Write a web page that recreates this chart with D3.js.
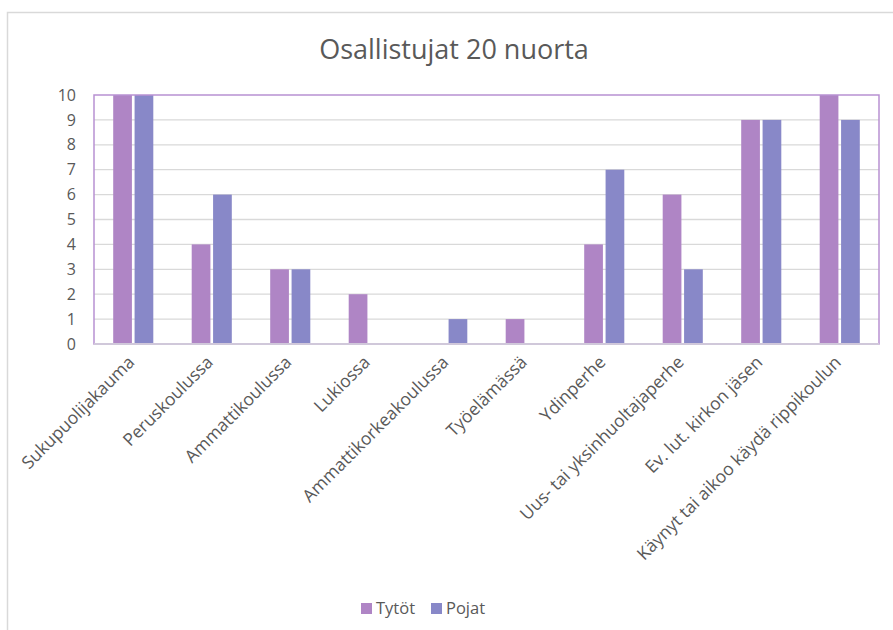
<!DOCTYPE html>
<html>
<head>
<meta charset="utf-8">
<script src="https://cdn.jsdelivr.net/npm/d3@7"></script>
<style>
  body { margin: 0; background: #fff; }
  text { font-family: "Open Sans", sans-serif; fill: #595959; }
</style>
</head>
<body>
<svg id="chart"></svg>
<script>
const categories = ["Sukupuolijakauma", "Peruskoulussa", "Ammattikoulussa", "Lukiossa",
  "Ammattikorkeakoulussa", "Työelämässä", "Ydinperhe", "Uus- tai yksinhuoltajaperhe",
  "Ev. lut. kirkon jäsen", "Käynyt tai aikoo käydä rippikoulun"];
const tytot = [10, 4, 3, 2, 0, 1, 4, 6, 9, 10];
const pojat = [10, 6, 3, 0, 1, 0, 7, 3, 9, 9];
const seriesNames = ["Tytöt", "Pojat"];
const yTicks = [0, 1, 2, 3, 4, 5, 6, 7, 8, 9, 10];

const width = 893, height = 630;
const colors = ["#af85c5", "#8888c8"];
const margin = { top: 95, right: 14, bottom: 286, left: 94 };

const svg = d3.select("#chart").attr("width", width).attr("height", height);

// outer chart border
svg.append("rect")
  .attr("x", 7.5).attr("y", 12.5)
  .attr("width", width + 10).attr("height", height + 10)
  .attr("fill", "none").attr("stroke", "#d9d9d9").attr("stroke-width", 1.5);

const x0 = d3.scaleBand().domain(categories)
  .range([margin.left, width - margin.right]);
const x1 = d3.scaleBand().domain(seriesNames)
  .range([-11.3 - 8.75, 11.3 + 8.75]).paddingInner(0.125);
const y = d3.scaleLinear().domain([0, 10]).range([height - margin.bottom, margin.top]);

// title
svg.append("text")
  .attr("x", 454).attr("y", 59)
  .attr("text-anchor", "middle")
  .style("font-size", "27px")
  .text("Osallistujat 20 nuorta");

// gridlines
svg.append("g")
  .selectAll("line").data(yTicks.filter(d => d > 0 && d < 10)).join("line")
  .attr("x1", margin.left).attr("x2", width - margin.right)
  .attr("y1", d => y(d)).attr("y2", d => y(d))
  .attr("stroke", "#d9d9d9").attr("stroke-width", 1.3);

// y axis labels
const yAxis = d3.axisLeft(y).tickValues(yTicks).tickSize(0).tickPadding(18);
const gy = svg.append("g").attr("transform", `translate(${margin.left},0)`).call(yAxis);
gy.select(".domain").remove();
gy.selectAll("text").style("font-size", "16px").style("font-family", "'Open Sans', sans-serif").attr("fill", "#595959");

// bars
const rows = categories.map((c, i) => ({ cat: c, vals: [tytot[i], pojat[i]] }));
const groups = svg.append("g").selectAll("g").data(rows).join("g")
  .attr("transform", d => `translate(${x0(d.cat) + x0.bandwidth() / 2},0)`);
groups.selectAll("rect")
  .data(d => d.vals.map((v, j) => ({ key: seriesNames[j], v, j })))
  .join("rect")
  .attr("x", d => x1(d.key))
  .attr("width", x1.bandwidth())
  .attr("y", d => y(d.v))
  .attr("height", d => y(0) - y(d.v))
  .attr("fill", d => colors[d.j]);

// plot frame
svg.append("rect")
  .attr("x", margin.left).attr("y", margin.top)
  .attr("width", width - margin.right - margin.left)
  .attr("height", y(0) - margin.top)
  .attr("fill", "none").attr("stroke", "#b891d2").attr("stroke-width", 1.5);
svg.append("line")
  .attr("x1", margin.left).attr("x2", width - margin.right)
  .attr("y1", y(0)).attr("y2", y(0))
  .attr("stroke", "#d0c8da").attr("stroke-width", 2);

// category labels
svg.append("g").selectAll("text").data(categories).join("text")
  .attr("transform", d => `translate(${x0(d) + x0.bandwidth() / 2 - 2},${y(0) + 15}) rotate(-45)`)
  .attr("text-anchor", "end")
  .attr("dy", "0.35em")
  .style("font-size", "17.5px")
  .text(d => d);

// legend
const legend = svg.append("g").attr("transform", "translate(361,608)");
const items = legend.selectAll("g").data(seriesNames).join("g")
  .attr("transform", (d, i) => `translate(${i * 70},0)`);
items.append("rect").attr("x", 0).attr("y", -5).attr("width", 11).attr("height", 11)
  .attr("fill", (d, i) => colors[i]);
items.append("text").attr("x", 15).attr("dy", "0.35em")
  .style("font-size", "16.5px").text(d => d);
</script>
</body>
</html>
